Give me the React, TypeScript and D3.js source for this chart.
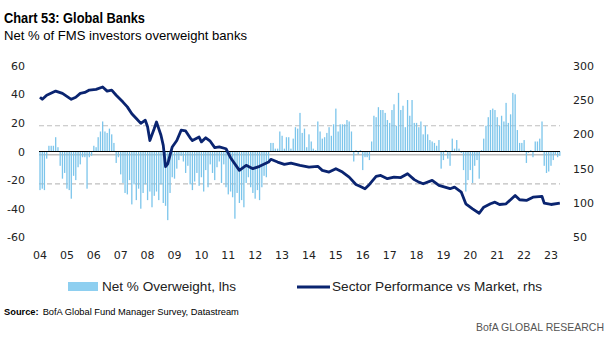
import React from "react";
import * as d3 from "d3";

// ---- Data ----
const barStart = "2004-01"; // monthly series start
const netOverweight = [
  -27, -26, -27, -5, 4, 4, 4, 10, 3, -10,
  -19, -15, -26, -27, -33, -17, -20, -11, -9, -4,
  -4, -26, -4, -3, 4, 3, 10, 14, 21, 14,
  13, 16, 12, 6, -8, -4, -16, -22, -29, -30,
  -20, -37, -23, -34, -26, -40, -29, -23, -34, -28,
  -39, -31, -28, -34, -23, -36, -38, -48, -29, -18,
  -19, -12, -6, -3, -7, -15, -10, -23, -27, -21,
  -15, -24, -18, -28, -13, -25, -9, -15, -20, -11,
  -7, -22, -9, -25, -30, -28, -32, -47, -29, -36,
  -34, -39, -22, -18, -25, -29, -33, -27, -34, -25,
  -17, -18, -8, 6, 6, 2, 2, 14, 11, 2,
  10, 10, 2, 9, 17, 16, 27, 13, 16, 3,
  12, 7, 2, 1, 21, 14, 9, 10, 13, 17,
  11, 19, 30, 14, 19, 19, 19, 22, 21, 14,
  -7, 1, -2, 1, -13, -4, -4, -6, 7, 25,
  24, 31, 29, 29, 27, 22, 20, 29, 33, 18,
  41, 29, 32, 17, 36, 25, 36, 20, 20, 17,
  21, 12, 18, 12, 8, 7, 6, 4, 8, -12,
  -6, 1, -5, -10, 9, 2, 8, 2, -1, -13,
  -28, -20, -13, -22, -10, -6, -19, 1, 9, 18,
  24, 29, 30, 29, 24, 18, 25, 21, 34, 20,
  26, 41, 40, 15, 6, 6, 8, -8, -1, 1,
  -4, 7, 7, 9, 21, -10, -15, -14, -10, -6,
  -2, -4, -3,
];

const perfDates = [
  "2004-01", "2004-02", "2004-04", "2004-08", "2004-11", "2005-03", "2005-05", "2005-07", "2005-09", "2005-11",
  "2006-02", "2006-05", "2006-07", "2006-09", "2006-11", "2007-02", "2007-04", "2007-06", "2007-08", "2007-10",
  "2007-12", "2008-01", "2008-02", "2008-04", "2008-05", "2008-07", "2008-08", "2008-09", "2008-10", "2008-12",
  "2009-02", "2009-04", "2009-06", "2009-08", "2009-09", "2009-12", "2010-01", "2010-03", "2010-05", "2010-07",
  "2010-09", "2010-12", "2011-02", "2011-06", "2011-09", "2011-12", "2012-03", "2012-07", "2012-08", "2012-11",
  "2013-02", "2013-05", "2013-09", "2014-01", "2014-05", "2014-07", "2014-10", "2015-01", "2015-04", "2015-07",
  "2015-10", "2015-12", "2016-02", "2016-04", "2016-07", "2016-09", "2016-12", "2017-03", "2017-06", "2017-09",
  "2017-12", "2018-02", "2018-04", "2018-08", "2018-11", "2019-04", "2019-06", "2019-09", "2019-11", "2020-02",
  "2020-05", "2020-07", "2020-10", "2020-12", "2021-02", "2021-05", "2021-09", "2021-11", "2022-02", "2022-05",
  "2022-09", "2022-10", "2023-01", "2023-05",
];
const perfValues = [
  254, 251, 257, 263, 259.6, 251, 254, 259.6, 261, 264.5,
  265.5, 269, 263, 264.5, 257, 247, 240, 230, 223, 216,
  220.6, 211, 191, 208.5, 218, 198.7, 184, 153, 157, 181.6,
  191, 206, 205, 195, 191, 196, 189, 195, 190, 180.7,
  181.6, 179, 166, 147.5, 154.8, 150, 153.4, 159.6, 163.6, 159.6,
  156.3, 158.2, 154.8, 152.3, 153.4, 147.5, 145, 150, 145, 137.7,
  127, 124, 120.8, 127, 138.7, 140.2, 135.4, 137.7, 137, 142.7,
  134, 130.4, 128, 132.9, 125.6, 120.8, 123.1, 115.8, 98.8, 91.5,
  85, 93.9, 98.8, 101.2, 97.8, 98.8, 111, 104.7, 103.7, 108.5,
  109.5, 99.7, 97.8, 99.7,
];

const leftTicks = [60, 40, 20, 0, -20, -40, -60];
const rightTicks = [300, 250, 200, 150, 100, 50];
const yearTicks = ["04", "05", "06", "07", "08", "09", "10", "11", "12", "13", "14", "15", "16", "17", "18", "19", "20", "21", "22", "23"];
const avgLevel = -2.2;
const bandLevels = [18.0, -22.6];

const title = "Chart 53: Global Banks";
const subtitle = "Net % of FMS investors overweight banks";
const legendLabels = ["Net % Overweight, lhs", "Sector Performance vs Market, rhs"];
const sourceLabel = "Source:";
const sourceText = "BofA Global Fund Manager Survey, Datastream";
const brand = "BofA GLOBAL RESEARCH";

const BAR = "#7CC5EB";
const NAVY = "#0A2470";
const GRID = "#BFBFBF";
const TICKFONT = "'DejaVu Sans', Verdana, sans-serif";
const TEXTFONT = "'Liberation Sans Narrow', 'Liberation Sans', Arial, sans-serif";

export default function App() {
  const W = 612, H = 340;
  const parse = d3.timeParse("%Y-%m");
  const x = d3.scaleTime().domain([new Date(2004, 0, 1), new Date(2023, 0, 1)]).range([40, 551]);
  const yL = d3.scaleLinear().domain([-60, 60]).range([237.3, 65.7]);
  const yR = d3.scaleLinear().domain([50, 300]).range([237.3, 65.7]);
  const start = parse(barStart)!;
  const bars = netOverweight.map((v, i) => ({ d: d3.timeMonth.offset(start, i), v }));
  const perf = perfDates.map((s, i) => ({ d: parse(s)!, v: perfValues[i] }));
  const line = d3.line<{ d: Date; v: number }>().x((p) => x(p.d)).y((p) => yR(p.v)).curve(d3.curveLinear);
  const x0 = 39, x1 = 560;
  const bw = 1.3;

  return (
    <svg width={W} height={H} style={{ position: "absolute", left: 0, top: 0, background: "#fff" }}>
      <text x={4} y={23} fontFamily={TEXTFONT} fontWeight="bold" fontSize={15} fill="#000" textLength={141} lengthAdjust="spacingAndGlyphs">{title}</text>
      <text x={4} y={40} fontFamily={TEXTFONT} fontSize={13} fill="#000" textLength={243} lengthAdjust="spacingAndGlyphs">{subtitle}</text>

      {/* reference lines */}
      {bandLevels.map((b, i) => (
        <line key={i} x1={x0} x2={x1} y1={yL(b)} y2={yL(b)} stroke={GRID} strokeWidth={1.2} strokeDasharray="5,3" />
      ))}
      <line x1={x0} x2={x1} y1={yL(avgLevel)} y2={yL(avgLevel)} stroke={GRID} strokeWidth={1.5} />

      {/* bars */}
      {bars.map((b, i) => {
        const y0 = yL(0), yv = yL(b.v);
        return <rect key={i} x={x(b.d) - bw / 2} y={Math.min(y0, yv)} width={bw} height={Math.abs(yv - y0)} fill={BAR} />;
      })}
      <line x1={x0} x2={x1} y1={yL(0)} y2={yL(0)} stroke="#000" strokeWidth={1} />

      {/* performance line */}
      <path d={line(perf) || ""} fill="none" stroke={NAVY} strokeWidth={2.8} strokeLinejoin="round" />

      {/* axes labels */}
      {leftTicks.map((t) => (
        <text key={t} x={25} y={yL(t) + 4} textAnchor="end" fontFamily={TICKFONT} fontSize={11} fill="#222">{t}</text>
      ))}
      {rightTicks.map((t) => (
        <text key={t} x={573} y={yR(t) + 4} textAnchor="start" fontFamily={TICKFONT} fontSize={11} fill="#222">{t}</text>
      ))}
      {yearTicks.map((t, i) => (
        <text key={t} x={x(new Date(2004 + i, 0, 1))} y={259} textAnchor="middle" fontFamily={TICKFONT} fontSize={11} fill="#222">{t}</text>
      ))}

      {/* legend */}
      <rect x={68} y={282} width={30} height={9} fill="#8ECFF0" />
      <text x={102} y={291} fontFamily={TEXTFONT} fontSize={13} fill="#222" textLength={134} lengthAdjust="spacingAndGlyphs">{legendLabels[0]}</text>
      <line x1={297} x2={330} y1={287} y2={287} stroke={NAVY} strokeWidth={3} />
      <text x={332} y={291} fontFamily={TEXTFONT} fontSize={13} fill="#222" textLength={210} lengthAdjust="spacingAndGlyphs">{legendLabels[1]}</text>

      {/* source */}
      <text x={4} y={315} fontFamily={TEXTFONT} fontSize={9.3} fill="#000">
        <tspan fontWeight="bold">{sourceLabel}</tspan>
        <tspan dx={4}>{sourceText}</tspan>
      </text>
      <text x={604} y={331} textAnchor="end" fontFamily={TEXTFONT} fontSize={10.5} fill="#555">{brand}</text>
    </svg>
  );
}
